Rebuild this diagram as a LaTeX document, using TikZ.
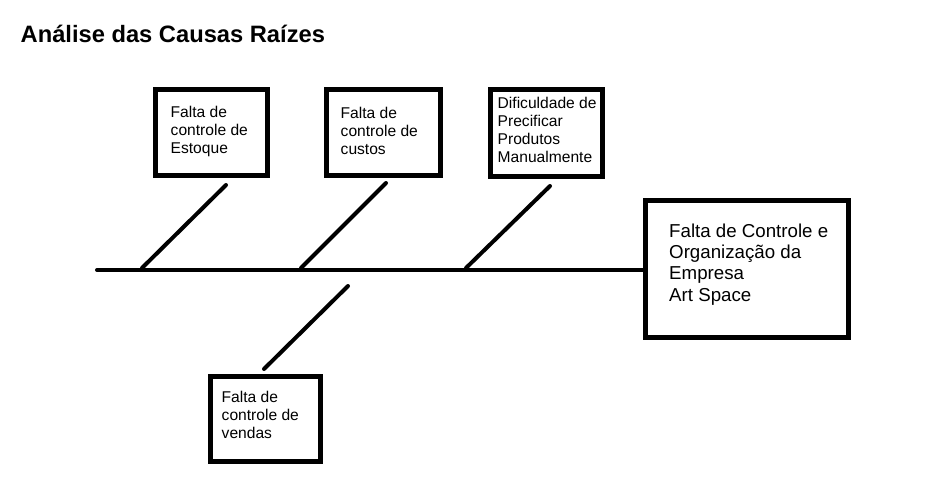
\documentclass[tikz,border=0pt]{standalone}
\usepackage{fontspec}
\setmainfont{Liberation Sans}
\begin{document}
\begin{tikzpicture}[x=1pt,y=-1pt,
  causebox/.style={draw=black,line width=5pt,inner sep=0pt,fill=white},
  boxtext/.style={anchor=north west,align=left,inner sep=0pt,font=\fontsize{15.6}{18}\selectfont},
  bigtext/.style={anchor=north west,align=left,inner sep=0pt,font=\fontsize{18.7}{21.4}\selectfont},
  bone/.style={draw=black,line width=4pt,line cap=round}]
\useasboundingbox[fill=white] (0,0) rectangle (938,477);
% title
\node[anchor=base west,inner sep=0pt,font=\fontsize{23.7}{27}\selectfont\bfseries] (title) at (20.5,42.5) {Análise das Causas Raízes};
% boxes
\node[causebox,minimum width=112pt,minimum height=86pt] (b1) at (211.5,132.5) {};
\node[causebox,minimum width=114pt,minimum height=86pt] (b2) at (383.5,132.5) {};
\node[causebox,minimum width=112pt,minimum height=87pt] (b3) at (546.5,133) {};
\node[causebox,minimum width=203pt,minimum height=137pt] (big) at (747,269) {};
\node[causebox,minimum width=110pt,minimum height=85pt] (b4) at (265.5,419) {};
% texts
\node[boxtext] (t1) at (170.5,105.5) {Falta de\\controle de\\Estoque};
\node[boxtext] (t2) at (340.5,107) {Falta de\\controle de\\custos};
\node[boxtext] (t3) at (497.5,96.5) {Dificuldade de\\Precificar\\Produtos\\Manualmente};
\node[bigtext] (tb) at (669,223.4) {Falta de Controle e\\Organização da\\Empresa\\Art Space};
\node[boxtext] (t4) at (221.5,390.5) {Falta de\\controle de\\vendas};
% spine
\coordinate (s0) at (97,270);
\draw[bone] (s0) -- (s0 -| big.west);
% bones
\coordinate (r1) at (142,268); \coordinate (e1) at (226,185);
\coordinate (r2) at (301,268); \coordinate (e2) at (386,183);
\coordinate (r3) at (466,268); \coordinate (e3) at (550,186);
\coordinate (r4) at (348,286); \coordinate (e4) at (264,369);
\draw[bone] (r1) -- (e1);
\draw[bone] (r2) -- (e2);
\draw[bone] (r3) -- (e3);
\draw[bone] (r4) -- (e4);
\end{tikzpicture}
\end{document}
